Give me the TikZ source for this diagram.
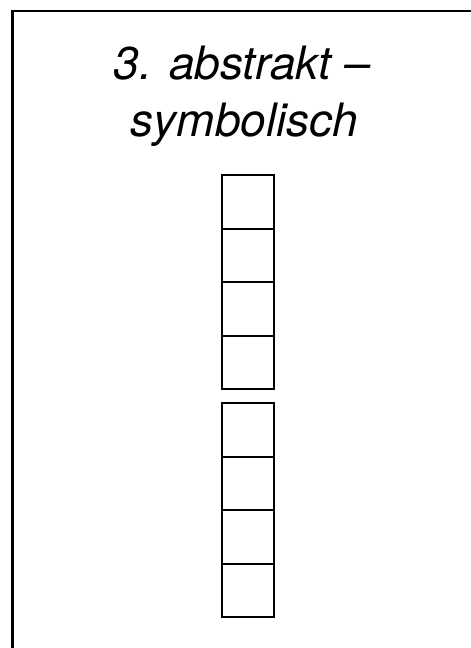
\documentclass[tikz,border=0pt]{standalone}
\usepackage{fontspec}
\setmainfont{TeX Gyre Heros}
\begin{document}
\begin{tikzpicture}[x=1pt,y=-1pt,
  cell/.style={draw=black,line width=1.9pt,minimum width=52pt,minimum height=53.5pt,inner sep=0pt,outer sep=0pt},
  title/.style={font=\fontsize{46}{57}\selectfont\itshape,align=center,inner sep=0pt}]
\useasboundingbox (0,0) rectangle (471,648);
\begin{scope}
\clip (0,0) rectangle (471,648);
\draw[line width=2.4pt] (12.5,700) -- (12.5,11) -- (520,11);
\end{scope}
\node[title,anchor=base] (t1) at (242,79.5) {3. abstrakt –};
\node[title,anchor=base] (t2) at (244.5,136) {symbolisch};
\foreach \i/\y in {1/202.1,2/255.6,3/309.1,4/362.6} {
  \node[cell] (a\i) at (248,\y) {};
}
\foreach \i/\y in {1/430.1,2/483.6,3/537.1,4/590.6} {
  \node[cell] (b\i) at (248,\y) {};
}
\end{tikzpicture}
\end{document}
